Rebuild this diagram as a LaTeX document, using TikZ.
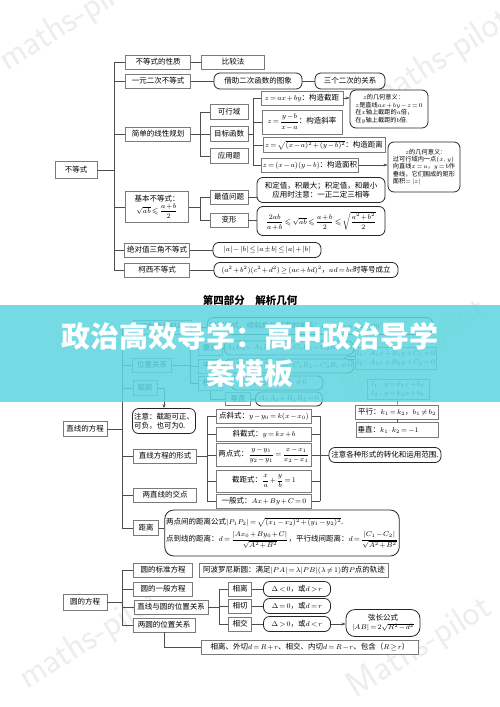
\documentclass[tikz,border=0pt]{standalone}
\usepackage{amsmath,amssymb}
\usepackage{fontspec}
\usepackage{tikz}
\usetikzlibrary{arrows.meta,calc}
\newfontfamily\cjk{Noto Sans CJK SC}
\definecolor{MapLine}{HTML}{4D4D4D}
\definecolor{MapFrame}{HTML}{7A7A7A}
\definecolor{BannerCyan}{HTML}{5ED6E0}
\newcommand\tightmath{\medmuskip=1.5mu\thickmuskip=2.5mu}

\begin{document}
\begin{tikzpicture}[x=1pt,y=-1pt,
  mapbox/.style={draw=MapFrame,line width=.6pt,fill=white,inner sep=1.5pt,font=\cjk\fontsize{7.5}{9}\selectfont\tightmath,minimum height=14},
  notebox/.style={mapbox,draw=black!85,line width=.8pt,rounded corners=6pt},
  smalltext/.style={font=\cjk\fontsize{6.2}{7.4}\selectfont\tightmath},
  link/.style={draw=MapLine,line width=.6pt},
  parttitle/.style={font=\cjk\bfseries\fontsize{10.5}{12}\selectfont},
  wmark/.style={font=\sffamily\fontsize{36}{36}\selectfont,text=black!7,rotate=32}]
\useasboundingbox (0,0) rectangle (500,707);
\fill[white] (0,0) rectangle (500,707);

% 水印
\node[wmark] (wm1) at (70,22) {maths-pilot};
\node[wmark] (wm2) at (440,60) {maths-pilot};
\node[wmark] (wm3) at (415,350) {Maths-pilot};
\node[wmark] (wm4) at (90,640) {maths-pilot};
\node[wmark] (wm5) at (420,648) {Maths-pilot};

% 不等式
\node[mapbox,minimum width=42,minimum height=17] (bds) at (76,170) {不等式};
\node[mapbox,minimum width=65] (xz) at (158,62) {不等式的性质};
\node[mapbox,minimum width=63] (bjf) at (233,62) {比较法};
\node[mapbox,minimum width=65] (yy) at (158,81) {一元二次不等式};
\node[notebox,minimum width=88,minimum height=16] (jz) at (258,81) {借助二次函数的图象};
\node[notebox,minimum width=70,minimum height=16] (sg) at (350,81) {三个二次的关系};
\node[mapbox,minimum width=65] (xx) at (158,134) {简单的线性规划};
\node[mapbox,minimum width=38,minimum height=15] (kxy) at (229,112) {可行域};
\node[mapbox,minimum width=38,minimum height=15] (mb) at (229,134) {目标函数};
\node[mapbox,minimum width=38,minimum height=15] (yyt) at (229,156) {应用题};
\node[mapbox,minimum width=82] (zj) at (302,98) {$z=ax+by$：构造截距};
\node[mapbox,minimum width=80,minimum height=24] (zx) at (302,122) {$z=\dfrac{y-b}{x-a}$：构造斜率};
\node[mapbox,minimum width=122,minimum height=15] (zd) at (324,145) {$z=\sqrt{(x-a)^2+(y-b)^2}$：构造距离};
\node[mapbox,minimum width=86] (zm) at (310,165) {$z=(x-a)(y-b)$：构造面积};
\node[notebox,smalltext,minimum width=78,minimum height=38,align=left] (jh1) at (389,109) {\quad\ $z$的几何意义：\\$z$是直线$ax+by-z=0$\\在$x$轴上截距的$a$倍，\\在$y$轴上截距的$b$倍.};
\node[notebox,smalltext,minimum width=72,minimum height=50,align=left] (jh2) at (424,167) {\qquad $z$的几何意义：\\过可行域内一点$(x,y)$\\向直线$x=a$，$y=b$作\\垂线，它们围成的矩形\\面积$=|z|$};
\node[mapbox,minimum width=63,minimum height=31,align=center] (jb) at (157,207) {基本不等式：\\$\sqrt{ab}\leqslant\dfrac{a+b}{2}$};
\node[mapbox,minimum width=38] (zz) at (229,197) {最值问题};
\node[mapbox,minimum width=38] (bx) at (229,220) {变形};
\node[notebox,minimum width=128,minimum height=25,align=center] (hd) at (321,190) {和定值，积最大；积定值，和最小\\应用时注意：一正二定三相等};
\node[notebox,minimum width=128,minimum height=29] (bxs) at (321,221) {$\dfrac{2ab}{a+b}\leqslant\sqrt{ab}\leqslant\dfrac{a+b}{2}\leqslant\sqrt{\dfrac{a^2+b^2}{2}}$};
\node[mapbox,minimum width=65] (jd) at (157,250) {绝对值三角不等式};
\node[notebox,minimum width=108,minimum height=15] (jds) at (267,250) {$|a|-|b|\le|a\pm b|\le|a|+|b|$};
\node[mapbox,minimum width=65] (kx) at (157,270) {柯西不等式};
\node[notebox,minimum width=184,minimum height=15] (kxs) at (306,270) {$(a^2+b^2)(c^2+d^2)\geq(ac+bd)^2$，$ad=bc$时等号成立};

\coordinate (ta) at (114,0);
\coordinate (tb) at (200,0);
\coordinate (tc) at (253,0);
\draw[link] (bds.east) -- (bds.east -| ta);
\draw[link] (xz.west -| ta) -- (kx.west -| ta);
\foreach \n in {xz,yy,xx,jb,jd,kx}{\draw[link] (\n.west -| ta) -- (\n.west);}
\draw[link] (xz) -- (bjf);
\draw[link] (yy) -- (jz);
\draw[link] (jz) -- (sg);
\draw[link] (xx.east) -- (xx.east -| tb);
\draw[link] (kxy.west -| tb) -- (yyt.west -| tb);
\foreach \n in {kxy,mb,yyt}{\draw[link] (\n.west -| tb) -- (\n.west);}
\draw[link] (mb.east) -- (mb.east -| tc);
\draw[link] (zj.west -| tc) -- (zm.west -| tc);
\foreach \n in {zj,zx,zd,zm}{\draw[link] (\n.west -| tc) -- (\n.west);}
\draw[link,-{Stealth[length=4pt]}] (zj.east) -- (zj.east -| jh1.west);
\draw[link,-{Stealth[length=4pt]}] (zm.east) -- (zm.east -| jh2.west);
\draw[link] (jb.east) -- (jb.east -| tb);
\draw[link] (zz.west -| tb) -- (bx.west -| tb);
\foreach \n in {zz,bx}{\draw[link] (\n.west -| tb) -- (\n.west);}
\draw[link] (zz.east) -- (zz.east -| hd.west);
\draw[link] (bx.east) -- (bx.east -| bxs.west);
\draw[link] (jd) -- (jds);
\draw[link] (kx) -- (kxs);

% 解析几何：直线
\node[parttitle] (part4) at (250,300) {第四部分\quad 解析几何};
\node[mapbox,minimum width=44,minimum height=15] (zxfc) at (85,429) {直线的方程};
\node[mapbox,minimum width=58] (qx) at (162,327) {倾斜角与斜率};
\node[notebox,minimum height=17,text width=222,align=left] (qxs) at (320,326) {斜率公式、倾斜角与斜率的关系：$k=\tan\alpha\ (\alpha\neq90^\circ)$};
\node[mapbox,minimum width=39] (wz) at (152,365) {位置关系};
\node[mapbox,minimum width=24,minimum height=15] (jj) at (145,388) {截距};
\node[notebox,minimum width=63,minimum height=25,align=left] (zy) at (164,421) {注意：截距可正、\\可负，也可为0.};
\node[mapbox,minimum width=24] (cs) at (210,348) {重合};
\node[mapbox,minimum width=24] (px) at (210,366) {平行};
\node[mapbox,minimum width=24] (xj) at (210,383) {相交};
\node[mapbox,minimum width=25,minimum height=13] (cz) at (238,399) {垂直};
\node[notebox,minimum width=112] (csr) at (289,348) {$A_1B_2-A_2B_1=0$，$C_1B_2-C_2B_1=0$};
\node[notebox,minimum width=112] (pxr) at (289,366) {$A_1B_2-A_2B_1=0$，$C_1B_2-C_2B_1\neq0$};
\node[notebox,minimum width=92] (xjr) at (277,383) {$A_1B_2-A_2B_1\neq0$};
\node[notebox,minimum width=67] (czr) at (289,399) {$A_1A_2+B_1B_2=0$};
\node[mapbox,minimum width=77,minimum height=22,align=left] (l12) at (396,358) {$l_1\colon A_1x+B_1y+C_1=0$\\$l_2\colon A_2x+B_2y+C_2=0$};
\coordinate (hollow) at (344,358);
\node[mapbox,minimum width=62,minimum height=20,align=left] (lk) at (398,389) {$l_1\colon y=k_1x+b_1$\\$l_2\colon y=k_2x+b_2$};
\node[mapbox,minimum width=83] (pxk) at (397,412) {平行：$k_1=k_2$，$b_1\neq b_2$};
\node[mapbox,minimum height=15,text width=79,align=left] (czk) at (397,430) {垂直：$k_1\cdot k_2=-1$};
\node[mapbox,minimum width=63] (xs) at (165,456) {直线方程的形式};
\node[mapbox,minimum width=95] (dx) at (264,416) {点斜式：$y-y_0=k(x-x_0)$};
\node[mapbox,minimum width=95] (xjs) at (264,434) {斜截式：$y=kx+b$};
\node[mapbox,minimum width=95,minimum height=23] (ld) at (264,455) {两点式：$\dfrac{y-y_1}{y_2-y_1}=\dfrac{x-x_1}{x_2-x_1}$};
\node[mapbox,minimum width=95,minimum height=22] (jjs) at (264,481) {截距式：$\dfrac{x}{a}+\dfrac{y}{b}=1$};
\node[mapbox,minimum width=95] (yb) at (264,501) {一般式：$Ax+By+C=0$};
\node[notebox,minimum width=112,minimum height=15] (zyg) at (385,455) {注意各种形式的转化和运用范围.};
\node[mapbox,minimum width=63] (jd2) at (165,495) {两直线的交点};
\node[mapbox,minimum width=25,minimum height=15] (jl) at (146,528) {距离};
\node[notebox,rounded corners=9pt,minimum width=223,minimum height=46,align=left] (jlr) at (282,533) {两点间的距离公式$|P_1P_2|=\sqrt{(x_1-x_2)^2+(y_1-y_2)^2}$.\\[3pt]点到线的距离：$d=\dfrac{|Ax_0+By_0+C|}{\sqrt{A^2+B^2}}$，平行线间距离：$d=\dfrac{|C_1-C_2|}{\sqrt{A^2+B^2}}$};

\coordinate (tg) at (122,0);
\coordinate (td) at (190,0);
\coordinate (te) at (207,0);
\coordinate (tf) at (320,0);
\draw[link] (zxfc.east) -- (zxfc.east -| tg);
\draw[link] (qx.west -| tg) -- (jl.west -| tg);
\foreach \n in {qx,wz,jj,xs,jd2,jl}{\draw[link] (\n.west -| tg) -- (\n.west);}
\draw[link] (qx.east) -- (qx.east -| qxs.west);
\draw[link] (wz.east) -- (wz.east -| td);
\draw[link] (cs.west -| td) -- (xj.west -| td);
\foreach \n in {cs,px,xj}{\draw[link] (\n.west -| td) -- (\n.west);}
\draw[link] (xj.south) |- (cz.west);
\draw[link] (cs) -- (csr);
\draw[link] (px) -- (pxr);
\draw[link] (xj) -- (xjr);
\draw[link] (cz) -- (czr);
\draw[link,-{Stealth[length=4pt]}] (jj.east) -| (zy.north);
\draw[MapLine,line width=.5pt,double=white,double distance=2.2pt,-{Implies}] (l12.west) -- (hollow);
\draw[link] (lk) -- (pxk);
\draw[link] (pxk) -- (czk);
\draw[link] (xs.east) -- (xs.east -| te);
\draw[link] (dx.west -| te) -- (yb.west -| te);
\foreach \n in {dx,xjs,ld,jjs,yb}{\draw[link] (\n.west -| te) -- (\n.west);}
\draw[link] (dx.east -| tf) -- (yb.east -| tf);
\foreach \n in {dx,xjs,ld,jjs,yb}{\draw[link] (\n.east) -- (\n.east -| tf);}
\draw[link] (ld.east -| tf) -- (zyg.west);
\draw[link] (jl.east) -- (jl.east -| jlr.west);

% 圆的方程
\node[mapbox,minimum width=44,minimum height=16] (yfc) at (85,602) {圆的方程};
\node[mapbox,minimum width=59] (bz) at (163,570) {圆的标准方程};
\node[mapbox,minimum width=59] (yb2) at (163,589) {圆的一般方程};
\node[mapbox,minimum width=74] (zy2) at (171,607) {直线与圆的位置关系};
\node[mapbox,minimum width=62] (ly) at (164,625) {两圆的位置关系};
\node[mapbox,minimum width=189] (apl) at (294,570) {阿波罗尼斯圆：满足$|PA|=\lambda|PB|(\lambda\neq1)$的$P$点的轨迹};
\node[mapbox,minimum width=23] (xl) at (240,589) {相离};
\node[mapbox,minimum width=23] (xq) at (240,606) {相切};
\node[mapbox,minimum width=23] (xj2) at (240,624) {相交};
\node[notebox,minimum width=67,minimum height=15] (r1) at (297,589) {$\Delta<0$，或$d>r$};
\node[notebox,minimum width=67,minimum height=15] (r2) at (297,606) {$\Delta=0$，或$d=r$};
\node[notebox,minimum width=67,minimum height=15] (r3) at (297,624) {$\Delta>0$，或$d<r$};
\node[notebox,rounded corners=9pt,minimum width=74,minimum height=27,align=center] (xc) at (383,623) {弦长公式\\$|AB|=2\sqrt{R^2-d^2}$};
\node[mapbox,minimum width=217] (lyr) at (310,647) {相离、外切$d=R+r$、相交、内切$d=R-r$、包含（$R\geq r$）};

\coordinate (th) at (219,0);
\draw[link] (yfc.east) -- (yfc.east -| tg);
\draw[link] (bz.west -| tg) -- (ly.west -| tg);
\foreach \n in {bz,yb2,zy2,ly}{\draw[link] (\n.west -| tg) -- (\n.west);}
\draw[link] (zy2.east) -- (zy2.east -| th);
\draw[link] (xl.west -| th) -- (xj2.west -| th);
\foreach \n in {xl,xq,xj2}{\draw[link] (\n.west -| th) -- (\n.west);}
\draw[link] (xl) -- (r1);
\draw[link] (xq) -- (r2);
\draw[link] (xj2) -- (r3);
\draw[link,-{Stealth[length=4pt]}] (r3.east) -- (r3.east -| xc.west);
\draw[link] (ly.south) |- (lyr.west);

% 横幅
\fill[BannerCyan,opacity=.86] (0,305) rectangle (500,402);
\node[font=\cjk\bfseries\fontsize{29}{34}\selectfont,text=white] (head1) at (250,336) {政治高效导学：高中政治导学};
\node[font=\cjk\bfseries\fontsize{29}{34}\selectfont,text=white] (head2) at (250,373) {案模板};
\end{tikzpicture}
\end{document}
